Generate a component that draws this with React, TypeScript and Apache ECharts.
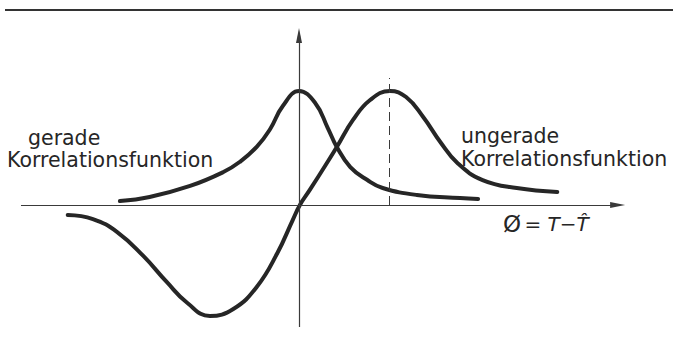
import React, { useEffect, useRef } from "react";
import * as echarts from "echarts";

// Even correlation function (phi, value)
const evenPhi = [-1.99, -1.66, -1.21, -0.84, -0.66, -0.47, -0.32, -0.18, 0, 0.18, 0.32, 0.42, 0.57, 0.76, 0.93, 1.31, 1.79, 1.99];
const evenVal = [0.035, 0.07, 0.167, 0.289, 0.377, 0.509, 0.667, 0.868, 1.0, 0.895, 0.675, 0.509, 0.333, 0.219, 0.149, 0.088, 0.061, 0.053];

// Odd correlation function (phi, value)
const oddPhi = [-2.57, -2.29, -2.02, -1.73, -1.47, -1.24, -0.99, -0.73, -0.47, -0.24, -0.07, 0.01, 0.12, 0.31, 0.42, 0.6, 0.79, 1.01, 1.19, 1.38, 1.57, 1.76, 2.04, 2.42, 2.87];
const oddVal = [-0.088, -0.123, -0.237, -0.447, -0.675, -0.86, -0.974, -0.912, -0.719, -0.421, -0.132, 0, 0.132, 0.368, 0.509, 0.746, 0.921, 1.0, 0.947, 0.772, 0.553, 0.368, 0.219, 0.149, 0.114];

// Axis extents (data units)
const xAxisStart = -3.089;
const xAxisEnd = 3.54;
const yAxisBottom = -1.07;
const yAxisTop = 1.487;
const oddPeakPhi = 1.0;
const oddPeakVal = 1.114;

const labels = {
  evenTop: "gerade",
  evenBottom: "Korrelationsfunktion",
  oddTop: "ungerade",
  oddBottom: "Korrelationsfunktion",
  axisPhi: "Ø",
  axisRest: "= T−T\u0302",
};

const W = 673;
const H = 343;
const ORIGIN_X = 299;
const ORIGIN_Y = 205;
const PX_X = 90;
const PX_Y = 114;

const INK = "#262626";
const FONT = "DejaVu Sans";

export default function App() {
  const ref = useRef<HTMLDivElement>(null);
  useEffect(() => {
    if (!ref.current) return;
    const chart = echarts.init(ref.current, null, { renderer: "svg" });
    const even = evenPhi.map((x, i) => [x, evenVal[i]]);
    const odd = oddPhi.map((x, i) => [x, oddVal[i]]);
    const axisStyle = { color: "#3a3a3a", width: 1.2, type: "solid" as const };
    const textStyle = (t: string) => ({
      text: t,
      font: `20.5px "${FONT}"`,
      fill: INK,
      verticalAlign: "middle",
      lineHeight: 20,
    });
    chart.setOption({
      animation: false,
      backgroundColor: "#ffffff",
      grid: { left: 0, top: 0, width: W, height: H, containLabel: false },
      xAxis: {
        type: "value",
        min: -ORIGIN_X / PX_X,
        max: (W - ORIGIN_X) / PX_X,
        show: false,
      },
      yAxis: {
        type: "value",
        min: -(H - ORIGIN_Y) / PX_Y,
        max: ORIGIN_Y / PX_Y,
        show: false,
      },
      series: [
        {
          type: "line",
          data: even,
          smooth: 0.45,
          showSymbol: false,
          silent: true,
          z: 3,
          lineStyle: { color: INK, width: 4, cap: "round", join: "round" },
          markLine: {
            silent: true,
            animation: false,
            label: { show: false },
            emphasis: { disabled: true },
            data: [
              [
                { coord: [xAxisStart, 0], symbol: "none", lineStyle: axisStyle },
                { coord: [xAxisEnd, 0], symbol: "triangle", symbolSize: [6, 15] },
              ],
              [
                { coord: [0, yAxisBottom], symbol: "none", lineStyle: axisStyle },
                { coord: [0, yAxisTop], symbol: "triangle", symbolSize: [6, 15] },
              ],
            ],
            lineStyle: axisStyle,
            itemStyle: { color: "#3a3a3a" },
          },
        },
        {
          type: "line",
          data: odd,
          smooth: 0.45,
          showSymbol: false,
          silent: true,
          z: 3,
          lineStyle: { color: INK, width: 4, cap: "round", join: "round" },
          markLine: {
            silent: true,
            animation: false,
            label: { show: false },
            emphasis: { disabled: true },
            symbol: "none",
            lineStyle: { color: "#3a3a3a", width: 1, type: [9, 5] },
            data: [[{ coord: [oddPeakPhi, 0] }, { coord: [oddPeakPhi, oddPeakVal] }]],
          },
        },
      ],
      graphic: [
        {
          type: "line",
          shape: { x1: 5, y1: 10, x2: W, y2: 10 },
          style: { stroke: "#333", lineWidth: 2 },
          silent: true,
        },
        { type: "text", x: 28, y: 138, style: textStyle(labels.evenTop) },
        { type: "text", x: 7, y: 160, style: textStyle(labels.evenBottom) },
        { type: "text", x: 461, y: 136, style: textStyle(labels.oddTop) },
        { type: "text", x: 461, y: 159, style: textStyle(labels.oddBottom) },
        {
          type: "text",
          x: 503,
          y: 224,
          style: {
            text: `{p|${labels.axisPhi}} {r|${labels.axisRest}}`,
            verticalAlign: "middle",
            fill: INK,
            rich: {
              p: { fontFamily: FONT, fontSize: 23, fill: INK },
              r: { fontFamily: FONT, fontSize: 20, fontStyle: "italic", fill: INK },
            },
          },
        },
      ],
    });
    return () => chart.dispose();
  }, []);
  return (
    <div
      ref={ref}
      style={{ position: "fixed", left: 0, top: 0, width: W, height: H, background: "#fff" }}
    />
  );
}
